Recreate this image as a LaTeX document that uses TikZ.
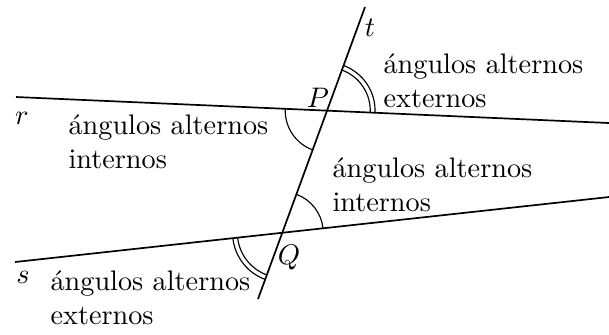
\documentclass[tikz,border=0pt]{standalone}
\usetikzlibrary{angles}

\begin{document}
\begin{tikzpicture}[x=0.354pt,y=-0.354pt,
    recta/.style={line width=0.6pt},
    arco/.style={draw,line width=0.4pt},
    texto/.style={align=left,anchor=base west,inner sep=0pt}]
  \useasboundingbox (0,0) rectangle (609,334);
  % las tres rectas
  \coordinate (rA) at (16,97);
  \coordinate (rB) at (609,123);
  \coordinate (sA) at (15,262);
  \coordinate (sB) at (609,197);
  \coordinate (tA) at (365,7);
  \coordinate (tB) at (258,299);
  \draw[recta] (rA) -- (rB);
  \draw[recta] (sA) -- (sB);
  \draw[recta] (tA) -- (tB);
  \coordinate (P) at (intersection of rA--rB and tA--tB);
  \coordinate (Q) at (intersection of sA--sB and tA--tB);
  % angulos
  \pic[arco,angle radius=17pt] {angle=rB--P--tA};
  \pic[arco,angle radius=15.3pt] {angle=rB--P--tA};
  \pic[arco,angle radius=14.8pt] {angle=rA--P--tB};
  \pic[arco,angle radius=14.5pt] {angle=sB--Q--tA};
  \pic[arco,angle radius=17.6pt] {angle=sA--Q--tB};
  \pic[arco,angle radius=15.9pt] {angle=sA--Q--tB};
  % nombres
  \node (lt) at (370,28) {$t$};
  \node (lP) at (318,98) {$P$};
  \node (lr) at (22,118) {$r$};
  \node (ls) at (23,277) {$s$};
  \node (lQ) at (289,258) {$Q$};
  % textos (base = ultima linea)
  \node[texto] (ext1) at (383,107) {ángulos alternos\\externos};
  \node[texto] (int1) at (68,168) {ángulos alternos\\internos};
  \node[texto] (int2) at (332,211) {ángulos alternos\\internos};
  \node[texto] (ext2) at (50,324) {ángulos alternos\\externos};
\end{tikzpicture}
\end{document}
